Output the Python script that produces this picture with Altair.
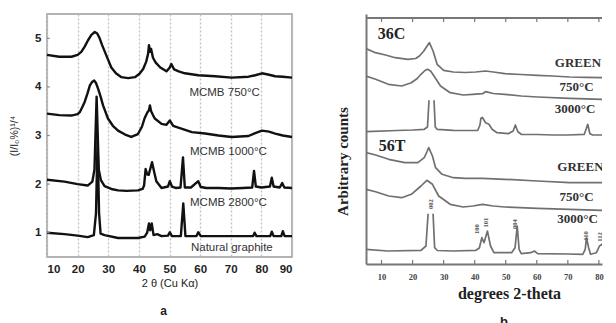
import altair as alt
import pandas as pd

# ---------------- Panel a : (I/I0%)^1/4 vs 2theta ----------------
a_x_750 = [10, 14, 18, 20, 21.2, 22.3, 23.4, 24.5, 25.6, 26.4, 27.2, 28, 28.9, 30, 31, 32.5, 34.3, 36.5, 38.7,
           40.2, 41.4, 42.4, 43.0, 43.3, 43.7, 44.0, 44.6, 45.5, 47, 49, 50.1, 50.6, 51.5, 53, 55, 59.4, 64.9,
           70.3, 75.8, 78, 80.2, 82.5, 84.5, 87, 90]
a_y_750 = [4.66, 4.62, 4.62, 4.66, 4.72, 4.83, 4.96, 5.07, 5.13, 5.1, 5.0, 4.86, 4.72, 4.55, 4.4, 4.28, 4.2,
           4.18, 4.2, 4.27, 4.37, 4.52, 4.68, 4.86, 4.72, 4.78, 4.6, 4.5, 4.4, 4.32, 4.4, 4.47, 4.36, 4.32, 4.28,
           4.24, 4.22, 4.19, 4.21, 4.24, 4.28, 4.25, 4.22, 4.21, 4.19]

a_x_1000 = [10, 14, 17.9, 20, 20.7, 21.5, 22.3, 23.2, 24, 24.7, 25.4, 26, 26.7, 27.5, 28.3, 29.9, 31.5, 33.2,
            35.5, 37.5, 39.7, 41, 41.9, 42.8, 43.3, 43.6, 44.0, 44.6, 45.2, 47.4, 49, 50.1, 51.2, 52.9, 57.3,
            61.6, 66, 70.3, 75.8, 78, 80.2, 82.5, 84.5, 87, 90]
a_y_1000 = [3.45, 3.42, 3.41, 3.44, 3.48, 3.58, 3.69, 3.86, 4.03, 4.1, 4.13, 4.08, 3.96, 3.8, 3.62, 3.35, 3.2,
            3.1, 3.02, 2.97, 3.03, 3.18, 3.36, 3.48, 3.52, 3.62, 3.5, 3.42, 3.35, 3.24, 3.22, 3.31, 3.2, 3.16,
            3.07, 3.04, 3.0, 2.97, 2.99, 3.05, 3.1, 3.08, 3.04, 3.0, 2.97]

a_x_2800 = [10, 15.7, 20, 23.3, 24.8, 25.5, 26.2, 26.9, 27.6, 28.8, 31, 33.2, 36, 39.7, 41.2, 41.7, 42.2, 42.7,
            43.2, 44.3, 45.0, 45.7, 47.4, 49.5, 50.1, 50.8, 52, 53.6, 54.4, 55.0, 57, 59.4, 60.2, 62, 66, 70,
            74, 77.0, 77.6, 78.2, 80, 82.8, 83.4, 84, 86, 86.8, 87.5, 90]
a_y_2800 = [2.09, 2.05, 2.0, 1.97, 2.05, 2.3, 3.8, 2.3, 2.08, 1.96, 1.9, 1.87, 1.86, 1.87, 1.9, 1.97, 2.31, 2.2,
            2.19, 2.45, 2.25, 2.06, 1.92, 1.95, 2.06, 1.95, 1.92, 1.93, 2.55, 1.93, 1.93, 2.06, 1.94, 1.92,
            1.92, 1.91, 1.92, 1.93, 2.27, 1.95, 1.93, 1.95, 2.13, 1.95, 1.93, 2.02, 1.93, 1.92]

a_x_nat = [10, 15.7, 20, 23.3, 25.3, 26.0, 26.5, 27.0, 27.5, 28.8, 33.2, 39.7, 41.9, 42.7, 43.3, 43.7, 44.2,
           44.8, 46, 47.4, 49.5, 50.1, 50.8, 53.7, 54.5, 55.2, 58.8, 59.4, 60.2, 66, 70, 77.3, 77.8, 78.4,
           82.9, 83.4, 84, 86.5, 87, 87.6, 90]
a_y_nat = [1.0, 0.97, 0.94, 0.91, 0.95, 1.4, 2.9, 1.4, 0.98, 0.95, 0.89, 0.89, 0.92, 1.0, 1.19, 1.05, 1.19,
           0.95, 0.97, 0.93, 0.94, 1.01, 0.93, 0.93, 1.6, 0.93, 0.93, 1.01, 0.93, 0.93, 0.93, 0.93, 1.0, 0.93,
           0.93, 1.02, 0.93, 0.93, 1.03, 0.93, 0.93]

a_labels = ["MCMB 750°C", "MCMB 1000°C", "MCMB 2800°C", "Natural graphite"]
a_label_x = [56.5, 56.7, 56.7, 57.0]
a_label_y = [3.87, 2.66, 1.62, 0.69]

a_xticks = [10, 20, 30, 40, 50, 60, 70, 80, 90]
a_yticks = [1, 2, 3, 4, 5]

# ---------------- Panel b : arbitrary counts vs 2theta ----------------
b_x_36c_green = [5, 8, 11.3, 14.4, 18.5, 21, 22.2, 23.5, 24.3, 25.4, 26.6, 27.9, 30, 33.1, 37, 40.3, 43.5, 46,
                 49.7, 55, 60.2, 65, 70.6, 76, 81, 85]
b_y_36c_green = [215.5, 211.3, 209, 206.3, 204.7, 205.5, 208, 212.5, 216.3, 221.3, 213, 199.7, 193.7, 192,
                 191.5, 192, 193, 192, 190.3, 189.5, 188.7, 188, 187, 186.7, 186.3, 186]

b_x_36c_750 = [5, 8.1, 12.2, 16.5, 19.6, 21.5, 22.7, 24, 24.8, 25.8, 26.9, 29, 32.1, 36.3, 39.4, 42.5, 43.5, 46,
               49.7, 55, 60.2, 70.6, 81, 85]
b_y_36c_750 = [188, 184.7, 179.7, 178, 181.3, 185.5, 189.7, 193.5, 194.7, 193, 188, 178, 171.3, 169, 169.7,
               170.3, 172.3, 170.5, 169.7, 168, 167, 165.7, 164.7, 164.5]

b_x_36c_3000_l = [5, 15, 20, 23.75, 24.8, 25.3]
b_y_36c_3000_l = [132.3, 133.5, 134, 134.7, 137, 163.7]
b_x_36c_3000_r = [26.9, 27.3, 27.9, 33.1, 38, 41, 41.7, 42.0, 42.5, 43.5, 44.6, 45.6, 47.2, 50.8, 52.4, 53.1,
                  53.9, 55, 60, 65.4, 70, 75.3, 75.9, 76.4, 77.1, 78, 81, 85]
b_y_36c_3000_r = [163.7, 137, 134.7, 133.7, 133.5, 133.7, 139, 145.7, 146.5, 141.3, 139.7, 134.7, 131.3, 130.3,
                  133, 139, 132.3, 129.7, 129.5, 129, 129, 129.7, 135, 139.7, 130.3, 129, 129, 129]

b_x_56t_green = [5, 8.1, 12.3, 17.5, 21.7, 23.75, 24.6, 25.2, 26.4, 27.4, 29.5, 33.1, 37, 42.5, 49.7, 60.2,
                 70.6, 81, 85]
b_y_56t_green = [111.3, 109, 104.7, 101.3, 101.3, 106.3, 112, 116.3, 108, 96.3, 89.7, 86.3, 85.7, 85.7, 84.7,
                 83, 81.3, 81.3, 81]

b_x_56t_750 = [5, 8.1, 12.3, 16.5, 19.6, 22.7, 24.6, 26.4, 28.4, 32.1, 36.3, 39.4, 42.5, 46, 49.7, 60.2, 70.6,
               81, 85]
b_y_56t_750 = [74.7, 72.3, 68, 66.3, 69.7, 78, 83.7, 79.7, 68, 59.7, 57, 58, 59.7, 58, 57, 55.7, 54.7, 53.7,
               53.5]

b_x_56t_3000_l = [5, 12, 22.7, 24.3, 25.0]
b_y_56t_3000_l = [14.7, 13, 13.7, 18, 50.3]
b_x_56t_3000_r = [26.6, 27.1, 28, 33, 40.4, 41.5, 42.3, 43.0, 44.1, 45.1, 46.2, 51.9, 53.0, 53.7, 54.3, 55,
                  58.1, 59.2, 60.3, 70, 74.8, 75.6, 76.0, 76.7, 77.3, 79.2, 80.2, 81, 82, 83, 85]
b_y_56t_3000_r = [50.3, 16.3, 13.5, 13, 13.7, 16, 26.3, 21.3, 33, 18, 11.3, 11.3, 16.3, 38, 14.7, 10.3, 11.3,
                  13, 10.3, 10, 9.7, 14.7, 26.3, 16.3, 9.7, 11.3, 18, 19.7, 13, 10, 10]

b_labels = ["GREEN", "750°C", "3000°C", "GREEN", "750°C", "3000°C"]
b_label_x = [65.8, 67.3, 65.8, 66.6, 67.3, 66.6]
b_label_y = [201.3, 177, 155, 97, 67, 45]

b_samples = ["36C", "56T"]
b_sample_x = [8.8, 9.1]
b_sample_y = [230.3, 118]

b_peaks = ["002", "100", "101", "004", "110", "112"]
b_peak_x = [25.9, 40.9, 43.75, 52.9, 75.8, 80.3]
b_peak_y = [60, 35, 41.3, 40, 28, 27]

b_xticks = [10, 20, 30, 40, 50, 60, 70, 80]
b_xmin, b_xmax = 5, 81
b_top = 246


def series(name, xs, ys):
    return pd.DataFrame({"x": xs, "y": ys, "s": name})


SANS = "Liberation Sans"
SERIF = "Liberation Serif"

# ---------- build panel a ----------
df_a = pd.concat([
    series("750", a_x_750, a_y_750),
    series("1000", a_x_1000, a_y_1000),
    series("2800", a_x_2800, a_y_2800),
    series("nat", a_x_nat, a_y_nat),
])
df_a_lab = pd.DataFrame({"t": a_labels, "x": a_label_x, "y": a_label_y})
df_a_tick = pd.DataFrame({"y": a_yticks, "x": [10] * 5, "x2": [10.9] * 5})

sx_a = alt.Scale(domain=[10, 90], nice=False, zero=False)
sy_a = alt.Scale(domain=[0.5, 5.5], nice=False, zero=False)
xa = alt.X("x:Q", scale=sx_a,
           axis=alt.Axis(values=a_xticks, grid=True, gridDash=[2, 2], gridColor="#c2c2c2", gridWidth=1.4,
                         ticks=False, domain=False, labelFont=SANS, labelFontWeight="bold", labelFontSize=11.5,
                         labelColor="#222", labelPadding=6, title="2 θ (Cu Kα)", titleFont=SANS,
                         titleFontSize=11, titleFontWeight="normal", titleColor="#222", titlePadding=3))
ya = alt.Y("y:Q", scale=sy_a,
           axis=alt.Axis(values=a_yticks, grid=False, ticks=False, domain=False, labelFont=SANS,
                         labelFontWeight="bold", labelFontSize=11.5, labelColor="#222", labelPadding=6,
                         minExtent=12, maxExtent=12, title="(I/I₀%)¹/⁴", titleFont=SANS, titleFontSize=10.5,
                         titleFontWeight="normal", titleColor="#222", titlePadding=16))

a_lines = alt.Chart(df_a).mark_line(color="#111", strokeWidth=2.4, strokeJoin="round").encode(
    x=xa, y=ya, detail="s:N", order=alt.Order("x:Q"))
a_text = alt.Chart(df_a_lab).mark_text(align="left", baseline="middle", font=SANS, fontSize=11.5,
                                       color="#333").encode(x=xa, y=ya, text="t:N")
a_ticks = alt.Chart(df_a_tick).mark_rule(color="#888", strokeWidth=1.2).encode(x=xa, x2="x2:Q", y=ya)

panel_a = alt.layer(a_lines, a_ticks, a_text).properties(
    width=245, height=243,
    view=alt.ViewBackground(stroke="#9a9a9a", strokeWidth=1.5),
    title=alt.TitleParams("a", orient="bottom", anchor="middle", font=SANS, fontSize=12,
                          fontWeight="bold", color="#222", offset=17, dx=-6))

# ---------- build panel b ----------
df_b = pd.concat([
    series("36g", b_x_36c_green, b_y_36c_green),
    series("36_750", b_x_36c_750, b_y_36c_750),
    series("36_3000l", b_x_36c_3000_l, b_y_36c_3000_l),
    series("36_3000r", b_x_36c_3000_r, b_y_36c_3000_r),
    series("56g", b_x_56t_green, b_y_56t_green),
    series("56_750", b_x_56t_750, b_y_56t_750),
    series("56_3000l", b_x_56t_3000_l, b_y_56t_3000_l),
    series("56_3000r", b_x_56t_3000_r, b_y_56t_3000_r),
])
df_b_lab = pd.DataFrame({"t": b_labels, "x": b_label_x, "y": b_label_y})
df_b_smp = pd.DataFrame({"t": b_samples, "x": b_sample_x, "y": b_sample_y})
df_b_pk = pd.DataFrame({"t": b_peaks, "x": b_peak_x, "y": b_peak_y})
n = len(b_xticks)
df_b_tick = pd.DataFrame({"x": b_xticks * 2, "y": [0] * n + [b_top - 4] * n, "y2": [4] * n + [b_top] * n})
df_b_frame = pd.DataFrame({"x": [b_xmin], "x2": [b_xmax], "y": [b_top]})

sx_b = alt.Scale(domain=[b_xmin, b_xmax], nice=False, zero=False)
sy_b = alt.Scale(domain=[0, 250], nice=False, zero=False)
xb = alt.X("x:Q", scale=sx_b,
           axis=alt.Axis(values=b_xticks, grid=False, ticks=False, domain=True, domainColor="#777",
                         domainWidth=2, labelFont=SERIF, labelFontWeight="bold", labelFontSize=8.5,
                         labelColor="#444", labelPadding=8,
                         title="degrees 2-theta", titleFont=SERIF, titleFontSize=16, titleFontWeight="bold",
                         titleColor="#222", titlePadding=5, titleX=143))
yb = alt.Y("y:Q", scale=sy_b,
           axis=alt.Axis(labels=False, ticks=False, domain=True, domainColor="#777", domainWidth=2,
                         grid=False, minExtent=0, maxExtent=0,
                         title="Arbitrary counts", titleFont=SERIF, titleFontSize=15, titleFontWeight="bold",
                         titleColor="#222", titlePadding=16, titleY=147))

b_lines = alt.Chart(df_b).mark_line(color="#707070", strokeWidth=1.7, strokeJoin="round", clip=True).encode(
    x=xb, y=yb, detail="s:N", order=alt.Order("x:Q"))
b_frame = alt.Chart(df_b_frame).mark_rule(color="#777", strokeWidth=2).encode(x=xb, x2="x2:Q", y=yb)
b_ticks = alt.Chart(df_b_tick).mark_rule(color="#777", strokeWidth=1.2).encode(x=xb, y=yb, y2="y2:Q")
b_text = alt.Chart(df_b_lab).mark_text(align="left", baseline="middle", font=SERIF, fontSize=13,
                                       fontWeight="bold", color="#333", clip=True).encode(
    x=xb, y=yb, text="t:N")
b_smp = alt.Chart(df_b_smp).mark_text(align="left", baseline="middle", font=SERIF, fontSize=16,
                                      fontWeight="bold", color="#222").encode(x=xb, y=yb, text="t:N")
b_pk = alt.Chart(df_b_pk).mark_text(align="center", baseline="middle", font=SERIF, fontSize=6.5,
                                    fontWeight="bold", angle=270, color="#555", clip=True).encode(
    x=xb, y=yb, text="t:N")

panel_b = alt.layer(b_lines, b_frame, b_ticks, b_text, b_smp, b_pk).properties(
    width=236, height=250,
    view=alt.ViewBackground(stroke=None),
    title=alt.TitleParams("b", orient="bottom", anchor="middle", font=SANS, fontSize=13,
                          fontWeight="bold", color="#222", offset=14, dx=20))

chart = alt.hconcat(panel_a, panel_b, spacing=41).properties(
    padding={"left": 0, "top": 5, "right": 0, "bottom": 0},
    background="white")

chart.save("out.html", embed_options={"renderer": "svg", "actions": False})
